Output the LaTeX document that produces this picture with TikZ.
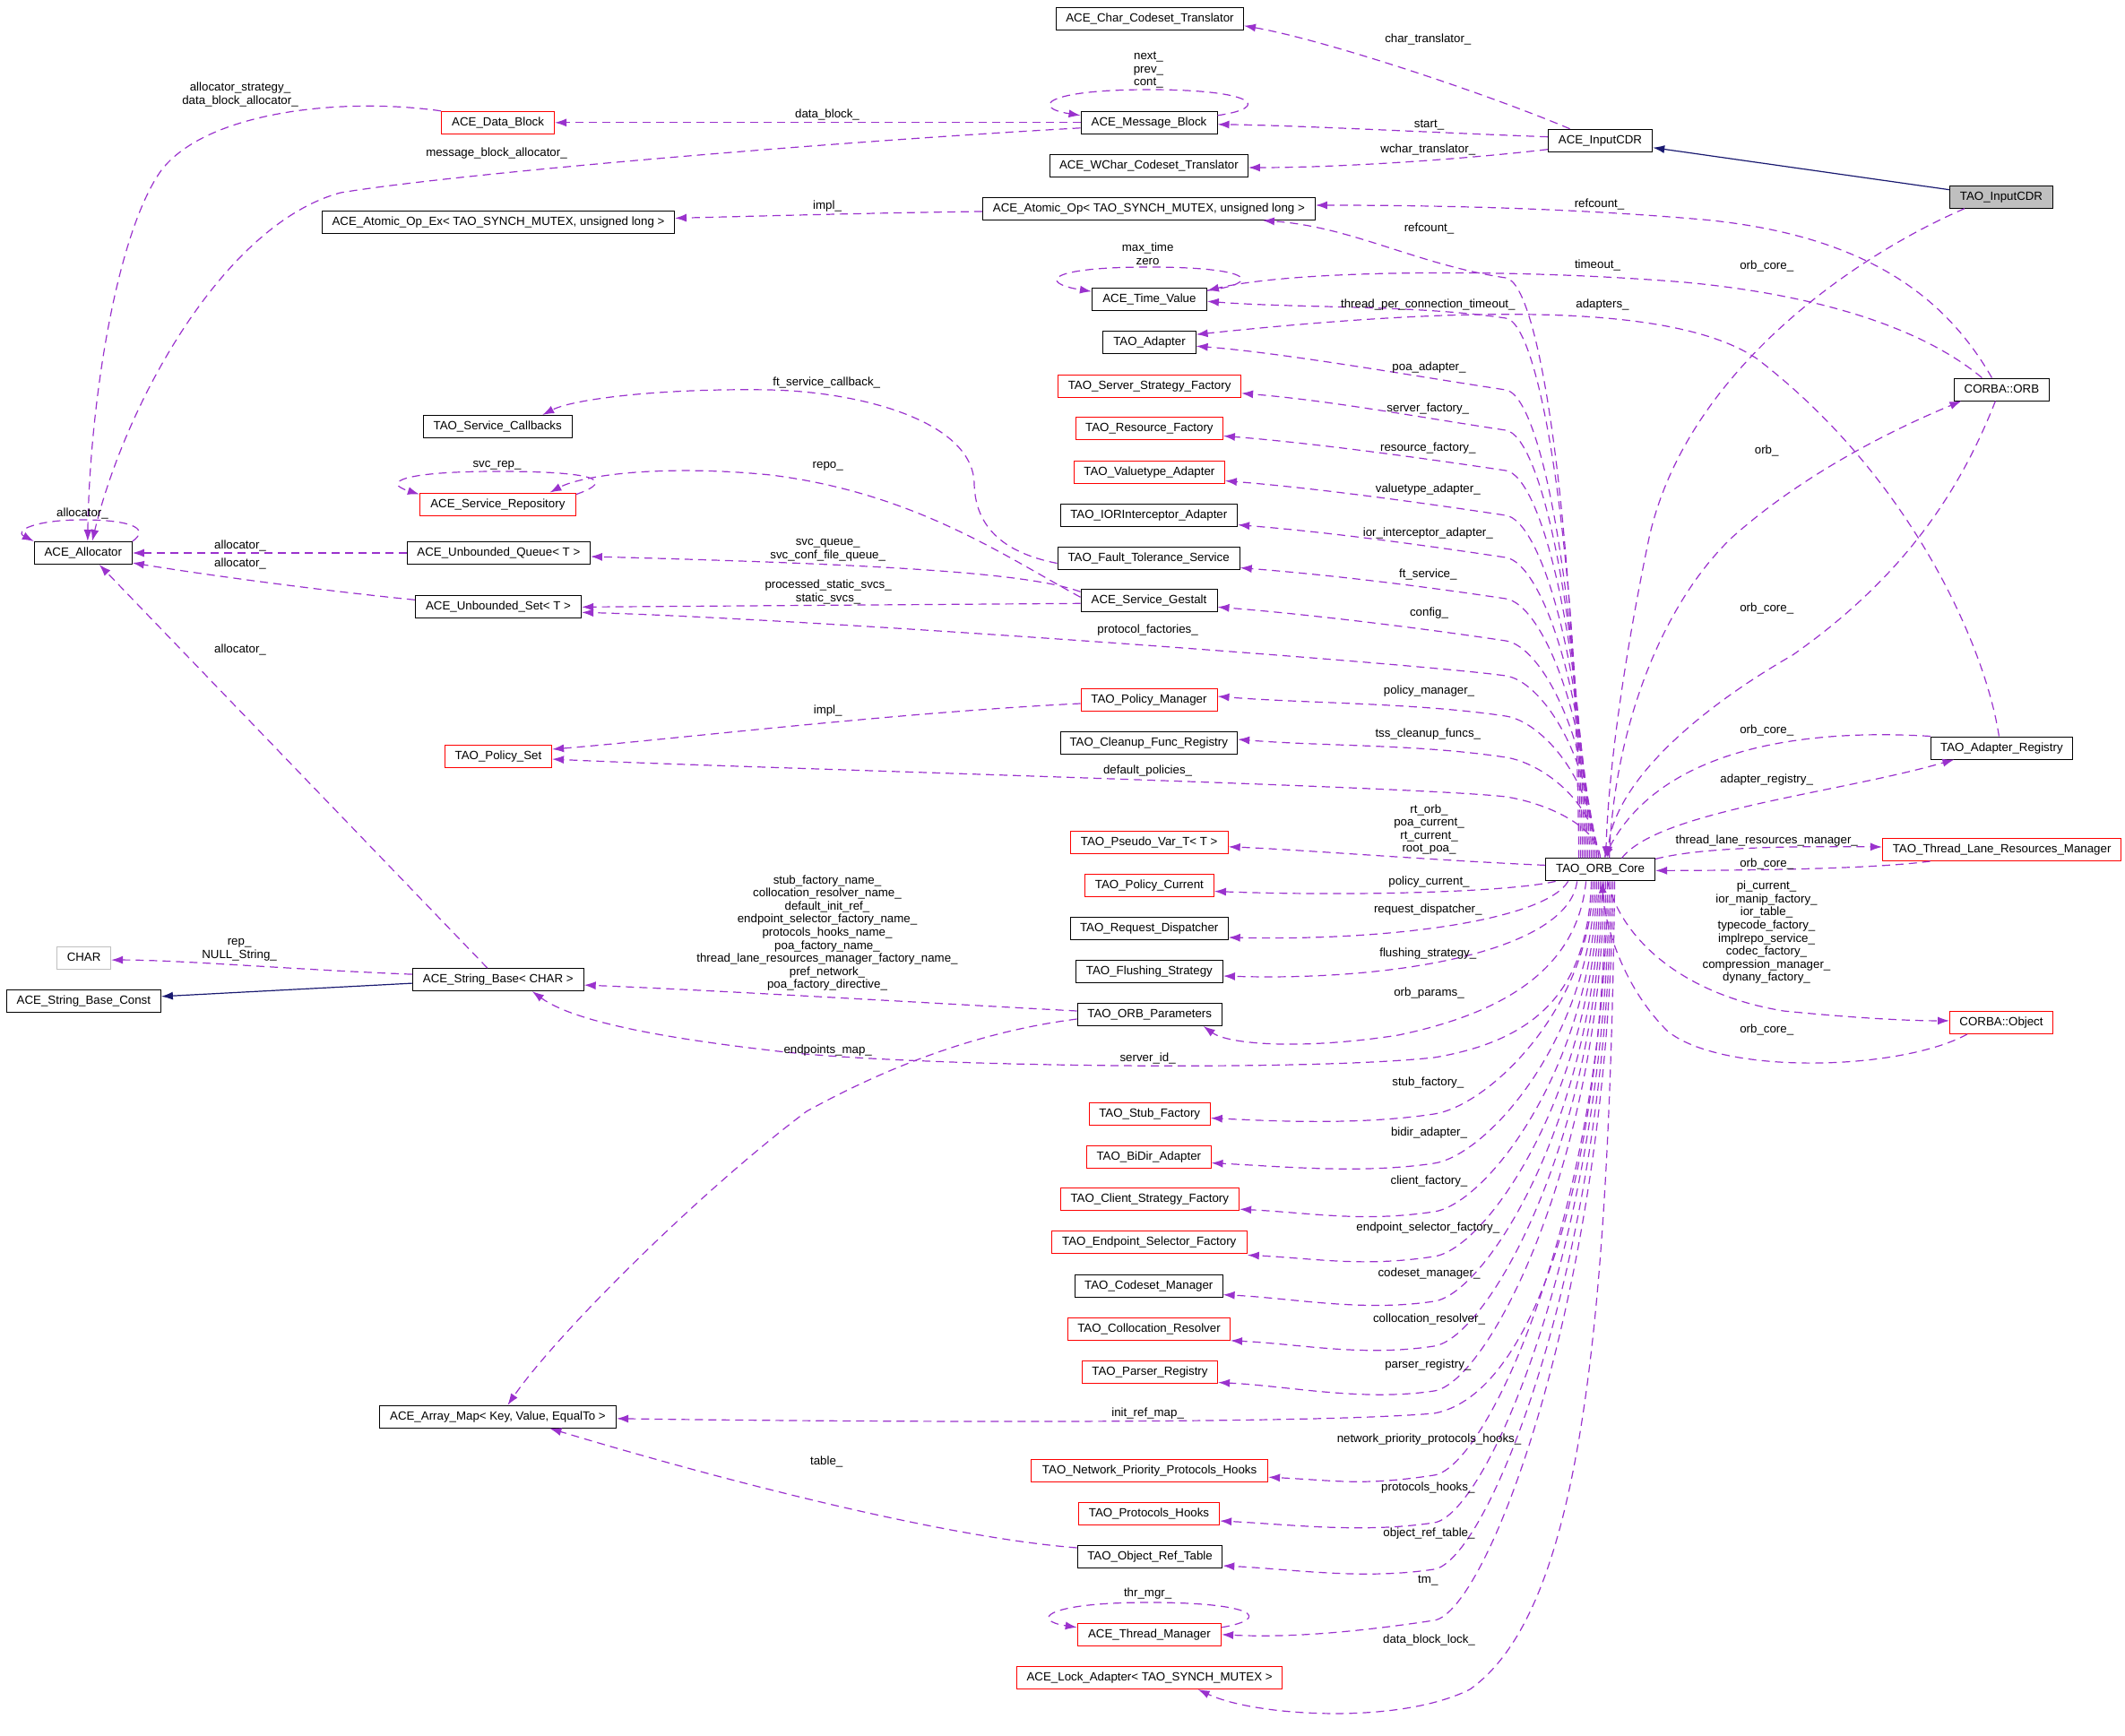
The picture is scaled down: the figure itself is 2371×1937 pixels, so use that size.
\documentclass[tikz,border=0pt]{standalone}
\usepackage{fontspec}
\setmainfont{Liberation Sans}
\usetikzlibrary{arrows.meta}
\definecolor{memc}{HTML}{9A32CD}
\definecolor{inhc}{HTML}{191970}
\definecolor{nodegray}{HTML}{BFBFBF}
\definecolor{nodered}{HTML}{FF0000}
\newcommand\dxfont{\fontsize{6.65}{7.3}\selectfont}
\newcommand\upfan[5]{%
  \draw[mem] ([xshift=#1]core.north) .. controls +(-3,{-0.55*(958-#2)}) and (1720,{#2+6}) .. (1680,#2) .. controls (1580,{#2-15}) and ({#4+100},{#5+8}) .. #3;}
\newcommand\lowfan[5]{%
  \draw[mem] ([xshift=#1]core.south) .. controls +(-3,{0.55*(#2-983)}) and (1660,{#2-9}) .. (1600,#2) .. controls (1520,{#2+12}) and ({#4+80},{#5+4}) .. #3;}
\begin{document}
\begin{tikzpicture}[x=0.5pt,y=-0.5pt,
  box/.style={draw=black, line width=0.5pt, fill=white, minimum height=12.5pt, inner sep=0pt, text height=4.9pt, text depth=1.4pt, font=\dxfont},
  redbox/.style={box, draw=nodered},
  lbl/.style={inner sep=0pt, font=\dxfont, align=center},
  mem/.style={draw=memc, line width=0.6pt, dash pattern=on 4.5pt off 3pt, -{Latex[length=6.5pt,width=4.5pt]}},
  inh/.style={draw=inhc, line width=0.6pt, -{Latex[length=6.5pt,width=4.5pt]}}]
\useasboundingbox (0,0) rectangle (2371,1937);

% ---------- nodes: left columns
\node[box, minimum width=54.5pt] (alloc) at (92.8,617) {ACE\_Allocator};
\node[box, draw=nodegray, minimum width=30pt] (charN) at (93.6,1069.1) {CHAR};
\node[box, minimum width=86pt] (sbc) at (93.4,1117.2) {ACE\_String\_Base\_Const};
\node[redbox, minimum width=63pt] (datablock) at (555.6,136.8) {ACE\_Data\_Block};
\node[box, minimum width=196.5pt] (atomicex) at (556,248) {ACE\_Atomic\_Op\_Ex< TAO\_SYNCH\_MUTEX, unsigned long >};
\node[box, minimum width=83pt] (svccb) at (555.2,476) {TAO\_Service\_Callbacks};
\node[redbox, minimum width=87pt] (svcrep) at (555.4,562.6) {ACE\_Service\_Repository};
\node[box, minimum width=102pt] (uqueue) at (556.4,617) {ACE\_Unbounded\_Queue< T >};
\node[box, minimum width=92.6pt] (uset) at (556,677.3) {ACE\_Unbounded\_Set< T >};
\node[redbox, minimum width=59.6pt] (policyset) at (556,844) {TAO\_Policy\_Set};
\node[box, minimum width=95.4pt] (sbase) at (555.8,1093.1) {ACE\_String\_Base< CHAR >};
\node[box, minimum width=132.2pt] (arraymap) at (555.4,1580.8) {ACE\_Array\_Map< Key, Value, EqualTo >};

% ---------- nodes: middle column
\node[box, minimum width=104.5pt] (charct) at (1283,20.7) {ACE\_Char\_Codeset\_Translator};
\node[box, minimum width=76pt] (msgblock) at (1282,136.8) {ACE\_Message\_Block};
\node[box, minimum width=110.5pt] (wcharct) at (1281.9,185) {ACE\_WChar\_Codeset\_Translator};
\node[box, minimum width=185.5pt] (atomic) at (1281.9,233) {ACE\_Atomic\_Op< TAO\_SYNCH\_MUTEX, unsigned long >};
\node[box, minimum width=64pt] (timeval) at (1282.4,334.2) {ACE\_Time\_Value};
\node[box, minimum width=51.6pt] (adapter) at (1282.5,382.2) {TAO\_Adapter};
\node[redbox, minimum width=102pt] (ssf) at (1282.6,430.8) {TAO\_Server\_Strategy\_Factory};
\node[redbox, minimum width=82pt] (rf) at (1282.4,478.4) {TAO\_Resource\_Factory};
\node[redbox, minimum width=84pt] (vta) at (1282.4,526.5) {TAO\_Valuetype\_Adapter};
\node[box, minimum width=98.8pt] (iori) at (1281.8,574.6) {TAO\_IORInterceptor\_Adapter};
\node[box, minimum width=101.6pt] (fts) at (1281.6,622.5) {TAO\_Fault\_Tolerance\_Service};
\node[box, minimum width=76pt] (gestalt) at (1282,670.3) {ACE\_Service\_Gestalt};
\node[redbox, minimum width=76pt] (pm) at (1282,781) {TAO\_Policy\_Manager};
\node[box, minimum width=98.8pt] (cfr) at (1281.8,829) {TAO\_Cleanup\_Func\_Registry};
\node[redbox, minimum width=88pt] (pvt) at (1282.2,939.8) {TAO\_Pseudo\_Var\_T< T >};
\node[redbox, minimum width=72pt] (pc) at (1282.4,987.5) {TAO\_Policy\_Current};
\node[box, minimum width=88pt] (rd) at (1282.2,1036) {TAO\_Request\_Dispatcher};
\node[box, minimum width=82pt] (fs) at (1282.4,1084) {TAO\_Flushing\_Strategy};
\node[box, minimum width=80.6pt] (params) at (1282.7,1132) {TAO\_ORB\_Parameters};
\node[redbox, minimum width=67.6pt] (stubf) at (1282.7,1242.5) {TAO\_Stub\_Factory};
\node[redbox, minimum width=69.2pt] (bidir) at (1281.8,1290.6) {TAO\_BiDir\_Adapter};
\node[redbox, minimum width=99.8pt] (csf) at (1282.8,1338.2) {TAO\_Client\_Strategy\_Factory};
\node[redbox, minimum width=109pt] (esf) at (1282.3,1386.4) {TAO\_Endpoint\_Selector\_Factory};
\node[box, minimum width=82.3pt] (csm) at (1281.8,1434.6) {TAO\_Codeset\_Manager};
\node[redbox, minimum width=90.5pt] (colres) at (1282,1482.8) {TAO\_Collocation\_Resolver};
\node[redbox, minimum width=75.6pt] (parser) at (1283,1530.5) {TAO\_Parser\_Registry};
\node[redbox, minimum width=132pt] (nph) at (1282.6,1641.2) {TAO\_Network\_Priority\_Protocols\_Hooks};
\node[redbox, minimum width=78.6pt] (ph) at (1282,1689) {TAO\_Protocols\_Hooks};
\node[box, minimum width=80.8pt] (ort) at (1283,1737) {TAO\_Object\_Ref\_Table};
\node[redbox, minimum width=80.2pt] (thrmgr) at (1282.4,1823.8) {ACE\_Thread\_Manager};
\node[redbox, minimum width=148pt] (lockad) at (1282.6,1872) {ACE\_Lock\_Adapter< TAO\_SYNCH\_MUTEX >};

% ---------- nodes: right columns
\node[box, minimum width=58.2pt] (inputcdr) at (1785.5,156.7) {ACE\_InputCDR};
\node[box, minimum width=61pt] (core) at (1785.6,970.4) {TAO\_ORB\_Core};
\node[box, fill=nodegray, minimum width=57.5pt] (taoinput) at (2233,219.7) {TAO\_InputCDR};
\node[box, minimum width=53pt] (orb) at (2233.4,434.5) {CORBA::ORB};
\node[box, minimum width=79pt] (areg) at (2233.4,834.5) {TAO\_Adapter\_Registry};
\node[redbox, minimum width=133.2pt] (tlrm) at (2233.6,948) {TAO\_Thread\_Lane\_Resources\_Manager};
\node[redbox, minimum width=57.5pt] (cobj) at (2233,1140.9) {CORBA::Object};

% ---------- inheritance
\draw[inh] ([yshift=4pt]taoinput.west) -- ([yshift=-4pt]inputcdr.east);
\draw[inh] ([yshift=-2pt]sbase.west) -- ([yshift=2.7pt]sbc.east);

% ---------- ACE_InputCDR members
\draw[mem] ([xshift=-17pt]inputcdr.north) .. controls (1660,105) and (1480,45) .. ([yshift=-4pt]charct.east);
\draw[mem] ([yshift=2pt]inputcdr.west) .. controls (1600,148) and (1450,140) .. ([yshift=-1pt]msgblock.east);
\draw[mem] ([yshift=-5pt]inputcdr.west) .. controls (1640,177) and (1500,187) .. ([yshift=-1pt]wcharct.east);

% ---------- ACE_Message_Block members
\draw[mem] ([yshift=4pt]msgblock.east) .. controls (1420,120) and (1400,100) .. (1282,100) .. controls (1165,100) and (1150,120) .. ([yshift=4pt]msgblock.west);
\draw[mem] (msgblock.west) -- (datablock.east);
\draw[mem] ([yshift=-3pt]msgblock.west) .. controls (900,160) and (500,195) .. (380,215) .. controls (250,250) and (140,450) .. ([xshift=5pt]alloc.north);
\draw[mem] (datablock.north west) .. controls (380,108) and (230,125) .. (180,190) .. controls (130,260) and (100,450) .. ([xshift=2.5pt]alloc.north);

% ---------- ACE_Allocator users
\draw[mem] (alloc.north east) .. controls (170,588) and (140,580) .. (92,580) .. controls (40,580) and (15,592) .. (alloc.north west);
\draw[mem] (uqueue.west) -- (alloc.east);
\draw[mem] ([yshift=4pt]uset.west) .. controls (350,658) and (220,640) .. ([yshift=-5.5pt]alloc.east);
\draw[mem] ([xshift=-6pt]sbase.north) -- ([xshift=9pt]alloc.south);
\draw[mem] ([yshift=3pt]sbase.west) .. controls (330,1082) and (200,1071) .. ([yshift=-1pt]charN.east);

% ---------- atomic
\draw[mem] ([yshift=-1.5pt]atomic.west) .. controls (1000,237) and (850,241) .. ([yshift=2.3pt]atomicex.east);

% ---------- CORBA::ORB members
\draw[mem] ([xshift=-5.5pt]orb.north) .. controls (2170,330) and (2080,262) .. (1900,245) .. controls (1750,232) and (1600,229) .. ([yshift=2pt]atomic.east);
\draw[mem] ([xshift=-11pt]orb.north) .. controls (2150,370) and (2040,330) .. (1880,315) .. controls (1700,300) and (1450,300) .. ([yshift=5pt]timeval.east);
\draw[mem] ([yshift=5pt]timeval.east) .. controls (1410,316) and (1400,298) .. (1282,298) .. controls (1165,298) and (1160,316) .. ([yshift=4.5pt]timeval.west);
\draw[mem] ([xshift=-1.5pt]areg.north) .. controls (2215,720) and (2130,530) .. (1960,400) .. controls (1870,340) and (1650,340) .. ([yshift=4.5pt]adapter.east);
\draw[mem] ([xshift=-20.5pt]taoinput.south) .. controls (2060,290) and (1880,420) .. (1840,600) .. controls (1815,720) and (1795,850) .. ([xshift=3pt]core.north);
\draw[mem] ([xshift=5pt]core.north) .. controls (1800,820) and (1850,680) .. (1931,601) .. controls (2010,530) and (2110,480) .. ([xshift=-22.5pt]orb.south);
\draw[mem] ([xshift=-3.5pt]orb.south) .. controls (2190,540) and (2130,640) .. (2000,731) .. controls (1880,800) and (1800,880) .. ([xshift=4pt]core.north);
\draw[mem] (areg.north west) .. controls (2000,812) and (1850,840) .. ([xshift=2pt]core.north);
\draw[mem] ([xshift=12pt]core.north) .. controls (1850,905) and (2050,885) .. ([xshift=-26.5pt]areg.south);
\draw[mem] ([yshift=6pt]core.east) .. controls (1900,945) and (2000,944) .. ([yshift=1.5pt]tlrm.west);
\draw[mem] ([xshift=-40pt]tlrm.south) .. controls (2100,968) and (2000,971) .. ([yshift=-0.5pt]core.east);
\draw[mem] ([xshift=4pt]core.south) .. controls (1810,1050) and (1880,1110) .. (1990,1128) .. controls (2070,1136) and (2130,1139) .. ([yshift=1pt]cobj.west);
\draw[mem] ([xshift=-19pt]cobj.south) .. controls (2120,1195) and (1920,1200) .. (1860,1150) .. controls (1810,1100) and (1790,1030) .. ([xshift=1pt]core.south);

% ---------- ACE_Service_Gestalt and friends
\draw[mem] ([yshift=-1.5pt]gestalt.west) -- (uset.east);
\draw[mem] ([yshift=5pt]gestalt.west) .. controls (1150,640) and (1000,630) .. ([yshift=-2pt]uqueue.east);
\draw[mem] ([yshift=2pt]gestalt.west) .. controls (1120,620) and (1020,550) .. (860,530) .. controls (740,518) and (650,530) .. ([xshift=29pt]svcrep.north);
\draw[mem] ([yshift=-3pt]fts.west) .. controls (1110,615) and (1088,580) .. (1087,540) .. controls (1086,470) and (960,437) .. (858,435) .. controls (740,433) and (640,445) .. ([xshift=25pt]svccb.north);
\draw[mem] ([yshift=-1pt]svcrep.north east) .. controls (690,535) and (660,526) .. (555,526) .. controls (450,526) and (425,538) .. ([yshift=-1pt]svcrep.north west);
\draw[mem] ([yshift=-2pt]pm.west) .. controls (1000,795) and (750,825) .. ([yshift=4pt]policyset.east);
\draw[mem] ([yshift=2pt]params.west) .. controls (1050,1120) and (800,1105) .. ([yshift=-3pt]sbase.east);
\draw[mem] ([yshift=-2.5pt]params.west) .. controls (1100,1150) and (1000,1185) .. (900,1240) .. controls (780,1330) and (620,1490) .. ([xshift=5.5pt]arraymap.north);
\draw[mem] ([yshift=5pt]ort.west) .. controls (1050,1715) and (800,1650) .. ([xshift=29pt]arraymap.south);
\draw[mem] ([yshift=4pt]thrmgr.east) .. controls (1420,1806) and (1400,1788) .. (1282,1788) .. controls (1165,1788) and (1150,1808) .. ([yshift=4pt]thrmgr.west);

% ---------- TAO_ORB_Core fan, upper
\upfan{-12pt}{310}{([xshift=63.5pt]atomic.south)}{1409}{245}
\upfan{-11pt}{355}{([yshift=-1pt]timeval.east)}{1346.5}{336}
\upfan{-10pt}{435}{([yshift=-2pt]adapter.east)}{1334}{386}
\upfan{-9pt}{480}{([yshift=-4pt]ssf.east)}{1385}{439}
\upfan{-8pt}{525}{([yshift=-4pt]rf.east)}{1364.5}{486.4}
\upfan{-7pt}{575}{([yshift=-5pt]vta.east)}{1366.4}{536.5}
\upfan{-6pt}{622}{([yshift=-5.5pt]iori.east)}{1380.5}{585.6}
\upfan{-5pt}{668}{([yshift=-5.5pt]fts.east)}{1383.2}{633.5}
\upfan{-4pt}{715}{([yshift=-3.5pt]gestalt.east)}{1358.3}{677.3}
\draw[mem] ([xshift=-3pt]core.north) .. controls +(-3,-113) and (1720,760) .. (1680,754) .. controls (1580,740) and (900,690) .. ([yshift=-3pt]uset.east);
\upfan{-2pt}{799}{([yshift=2pt]pm.east)}{1358.3}{777}
\upfan{-1pt}{845}{([yshift=2pt]cfr.east)}{1380.5}{825}
\draw[mem] (core.north) .. controls +(-3,-38) and (1720,895) .. (1680,889) .. controls (1580,877) and (800,856) .. ([yshift=-1.5pt]policyset.east);
\draw[mem] ([yshift=2.5pt]core.west) .. controls (1600,960) and (1450,948) .. ([yshift=-2.5pt]pvt.east);

% ---------- TAO_ORB_Core fan, lower
\draw[mem] ([xshift=-25pt]core.south) .. controls (1680,996) and (1500,1000) .. ([yshift=-3.5pt]pc.east);
\draw[mem] ([xshift=-18pt]core.south) .. controls (1725,1025) and (1560,1050) .. ([yshift=-5pt]rd.east);
\draw[mem] ([xshift=-13pt]core.south) .. controls (1750,1060) and (1560,1095) .. ([yshift=-2.5pt]fs.east);
\draw[mem] ([xshift=-8pt]core.south) .. controls (1760,1080) and (1680,1130) .. (1560,1155) .. controls (1450,1172) and (1370,1165) .. ([xshift=30pt]params.south);
\draw[mem] ([xshift=-5pt]core.south) .. controls (1772,1100) and (1720,1160) .. (1600,1180) .. controls (1450,1196) and (1000,1190) .. (860,1172) .. controls (740,1158) and (640,1140) .. ([xshift=19pt]sbase.south);
\lowfan{-4pt}{1243}{([yshift=-2.5pt]stubf.east)}{1350.3}{1247.5}
\lowfan{-3pt}{1298}{([yshift=-3.5pt]bidir.east)}{1351}{1297.6}
\lowfan{-2pt}{1352}{([yshift=-5.5pt]csf.east)}{1382.5}{1349.2}
\lowfan{-1pt}{1402}{([yshift=-7pt]esf.east)}{1391.3}{1400.4}
\lowfan{0pt}{1452}{([yshift=-5pt]csm.east)}{1364.1}{1444.6}
\lowfan{1pt}{1502}{([yshift=-6.5pt]colres.east)}{1372.5}{1495.8}
\lowfan{2pt}{1552}{([yshift=-6pt]parser.east)}{1358.7}{1542.5}
\draw[mem] ([xshift=3pt]core.south) .. controls +(-3,330) and (1710,1557) .. (1600,1577) .. controls (1450,1590) and (900,1586) .. ([yshift=-1pt]arraymap.east);
\lowfan{4pt}{1646}{([yshift=-3.5pt]nph.east)}{1414.6}{1648.2}
\lowfan{5pt}{1699}{([yshift=-4pt]ph.east)}{1360.6}{1697}
\lowfan{6pt}{1751}{([yshift=-5pt]ort.east)}{1363.7}{1747}
\lowfan{7pt}{1808}{(thrmgr.east)}{1362.5}{1823.8}
\draw[mem] ([xshift=8pt]core.south) .. controls (1795,1500) and (1760,1800) .. (1640,1885) .. controls (1560,1925) and (1400,1915) .. ([xshift=27pt]lockad.south);

% ---------- labels
\node[lbl] (l1) at (1593.3,44.4) {char\_translator\_};
\node[lbl] (l2) at (1281.4,78.2) {next\_\\prev\_\\cont\_};
\node[lbl] (l3) at (1594.5,139.3) {start\_};
\node[lbl] (l4) at (1593.3,166.7) {wchar\_translator\_};
\node[lbl] (l5) at (268,105.5) {allocator\_strategy\_\\data\_block\_allocator\_};
\node[lbl] (l6) at (923,128.5) {data\_block\_};
\node[lbl] (l7) at (554,171.2) {message\_block\_allocator\_};
\node[lbl] (l8) at (1784.5,228.4) {refcount\_};
\node[lbl] (l9) at (923,230.5) {impl\_};
\node[lbl] (l10) at (1594.5,255.4) {refcount\_};
\node[lbl] (l11) at (1280.6,283) {max\_time\\zero};
\node[lbl] (l12) at (1971.2,296.8) {orb\_core\_};
\node[lbl] (l13) at (1782.5,296.4) {timeout\_};
\node[lbl] (l14) at (1593.3,340.4) {thread\_per\_connection\_timeout\_};
\node[lbl] (l15) at (1788,339.6) {adapters\_};
\node[lbl] (l16) at (1594.5,410.4) {poa\_adapter\_};
\node[lbl] (l17) at (922.2,427.4) {ft\_service\_callback\_};
\node[lbl] (l18) at (1593.3,455.6) {server\_factory\_};
\node[lbl] (l19) at (1593.3,500.4) {resource\_factory\_};
\node[lbl] (l20) at (1971.2,502.9) {orb\_};
\node[lbl] (l21) at (554.5,519) {svc\_rep\_};
\node[lbl] (l22) at (923.7,520.7) {repo\_};
\node[lbl] (l23) at (1593.3,546.4) {valuetype\_adapter\_};
\node[lbl] (l24) at (92,572.6) {allocator\_};
\node[lbl] (l25) at (1593.3,595.4) {ior\_interceptor\_adapter\_};
\node[lbl] (l26) at (923.7,613.6) {svc\_queue\_\\svc\_conf\_file\_queue\_};
\node[lbl] (l27) at (268,608.6) {allocator\_};
\node[lbl] (l28) at (268,629) {allocator\_};
\node[lbl] (l29) at (1593.3,640.5) {ft\_service\_};
\node[lbl] (l30) at (924.1,660.4) {processed\_static\_svcs\_\\static\_svcs\_};
\node[lbl] (l31) at (1971.2,678.6) {orb\_core\_};
\node[lbl] (l32) at (1594.5,684.4) {config\_};
\node[lbl] (l33) at (1280.6,703.4) {protocol\_factories\_};
\node[lbl] (l34) at (268,724.6) {allocator\_};
\node[lbl] (l35) at (1594.5,771) {policy\_manager\_};
\node[lbl] (l36) at (923.7,793) {impl\_};
\node[lbl] (l37) at (1971.2,814.5) {orb\_core\_};
\node[lbl] (l38) at (1593.3,819.5) {tss\_cleanup\_funcs\_};
\node[lbl] (l39) at (1280.6,859.7) {default\_policies\_};
\node[lbl] (l40) at (1971.2,870.5) {adapter\_registry\_};
\node[lbl] (l41) at (1594.5,925.6) {rt\_orb\_\\poa\_current\_\\rt\_current\_\\root\_poa\_};
\node[lbl] (l42) at (1971.2,938.5) {thread\_lane\_resources\_manager\_};
\node[lbl] (l43) at (1971.2,963.8) {orb\_core\_};
\node[lbl] (l44) at (1594.5,983.7) {policy\_current\_};
\node[lbl] (l45) at (1971,1040.3) {pi\_current\_\\ior\_manip\_factory\_\\ior\_table\_\\typecode\_factory\_\\implrepo\_service\_\\codec\_factory\_\\compression\_manager\_\\dynany\_factory\_};
\node[lbl] (l46) at (1593.3,1014.8) {request\_dispatcher\_};
\node[lbl] (l47) at (923,1041) {stub\_factory\_name\_\\collocation\_resolver\_name\_\\default\_init\_ref\_\\endpoint\_selector\_factory\_name\_\\protocols\_hooks\_name\_\\poa\_factory\_name\_\\thread\_lane\_resources\_manager\_factory\_name\_\\pref\_network\_\\poa\_factory\_directive\_};
\node[lbl] (l48) at (267.1,1060) {rep\_\\NULL\_String\_};
\node[lbl] (l49) at (1593.3,1063.7) {flushing\_strategy\_};
\node[lbl] (l50) at (1594.5,1107.7) {orb\_params\_};
\node[lbl] (l51) at (1971.2,1148.7) {orb\_core\_};
\node[lbl] (l52) at (923.7,1172) {endpoints\_map\_};
\node[lbl] (l53) at (1280.6,1180.6) {server\_id\_};
\node[lbl] (l54) at (1593.3,1208) {stub\_factory\_};
\node[lbl] (l55) at (1594.5,1264.4) {bidir\_adapter\_};
\node[lbl] (l56) at (1594.5,1318.5) {client\_factory\_};
\node[lbl] (l57) at (1593.3,1370.5) {endpoint\_selector\_factory\_};
\node[lbl] (l58) at (1594.5,1420.8) {codeset\_manager\_};
\node[lbl] (l59) at (1594.5,1471.5) {collocation\_resolver\_};
\node[lbl] (l60) at (1593.3,1522.6) {parser\_registry\_};
\node[lbl] (l61) at (1280.6,1576.6) {init\_ref\_map\_};
\node[lbl] (l62) at (1594.5,1606.3) {network\_priority\_protocols\_hooks\_};
\node[lbl] (l63) at (922.2,1631) {table\_};
\node[lbl] (l64) at (1593.3,1659.6) {protocols\_hooks\_};
\node[lbl] (l65) at (1594.5,1711.5) {object\_ref\_table\_};
\node[lbl] (l66) at (1593.3,1763.9) {tm\_};
\node[lbl] (l67) at (1280.6,1778.5) {thr\_mgr\_};
\node[lbl] (l68) at (1594.5,1830) {data\_block\_lock\_};
\end{tikzpicture}
\end{document}
